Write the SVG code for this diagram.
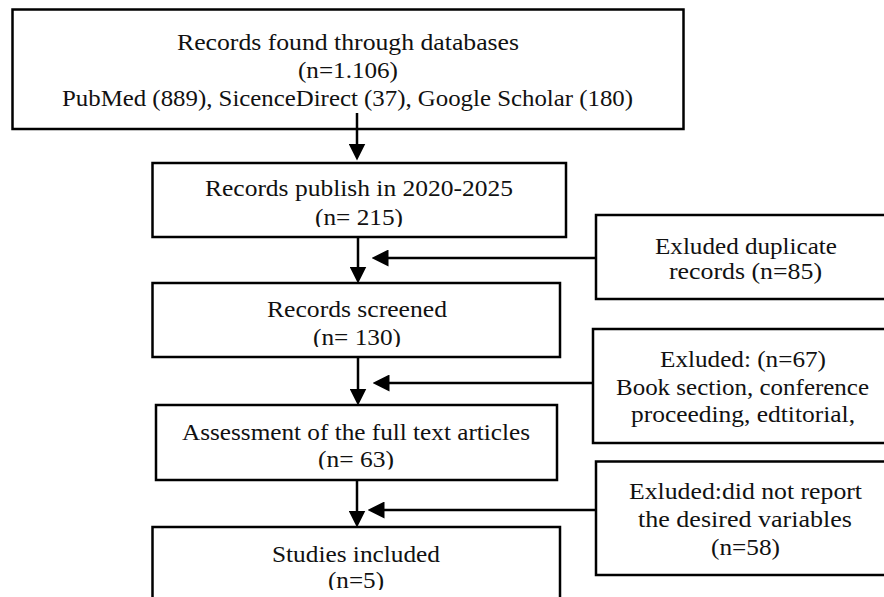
<svg xmlns="http://www.w3.org/2000/svg" width="884" height="597" viewBox="0 0 884 597">
<style>
.box{fill:#fff;stroke:#000;stroke-width:2.5}
.t{font-family:"Liberation Serif","DejaVu Serif",serif;font-size:24px;fill:#111;text-anchor:middle}
.c{stroke:#000;stroke-width:2.5;fill:none}
</style>
<defs>
<marker id="ah" markerUnits="userSpaceOnUse" markerWidth="17" markerHeight="17" refX="8" refY="8" orient="auto" viewBox="0 0 16 16">
<path d="M0,0 L16,8 L0,16 z" fill="#000"/>
</marker>
<clipPath id="cl2"><rect x="150" y="160" width="420" height="67"/></clipPath>
<clipPath id="cl3"><rect x="150" y="280" width="420" height="67"/></clipPath>
<clipPath id="cl6"><rect x="150" y="400" width="420" height="69.5"/></clipPath>
<clipPath id="cl8"><rect x="150" y="520" width="420" height="70"/></clipPath>
</defs>
<rect width="884" height="597" fill="#fff"/>

<g id="n1">
<rect class="box" x="12.5" y="9.5" width="671" height="119.5"/>
<text class="t" x="348" y="50" textLength="342" lengthAdjust="spacingAndGlyphs">Records found through databases</text>
<text class="t" x="348" y="78" textLength="100" lengthAdjust="spacingAndGlyphs">(n=1.106)</text>
<text class="t" x="347.5" y="106" textLength="571" lengthAdjust="spacingAndGlyphs">PubMed (889), SicenceDirect (37), Google Scholar (180)</text>
</g>

<g id="n2">
<rect class="box" x="152.5" y="163" width="413.5" height="74"/>
<g clip-path="url(#cl2)">
<text class="t" x="359" y="196" textLength="308" lengthAdjust="spacingAndGlyphs">Records publish in 2020-2025</text>
<text class="t" x="359" y="224.5" textLength="88" lengthAdjust="spacingAndGlyphs">(n= 215)</text>
</g>
</g>

<g id="n3">
<rect class="box" x="152.5" y="283" width="407.5" height="74"/>
<g clip-path="url(#cl3)">
<text class="t" x="357" y="317" textLength="180" lengthAdjust="spacingAndGlyphs">Records screened</text>
<text class="t" x="357" y="344.5" textLength="88" lengthAdjust="spacingAndGlyphs">(n= 130)</text>
</g>
</g>

<g id="n6">
<rect class="box" x="156" y="405" width="401" height="75"/>
<g clip-path="url(#cl6)">
<text class="t" x="356" y="440" textLength="348" lengthAdjust="spacingAndGlyphs">Assessment of the full text articles</text>
<text class="t" x="356" y="467" textLength="76" lengthAdjust="spacingAndGlyphs">(n= 63)</text>
</g>
</g>

<g id="n8">
<rect class="box" x="152.5" y="527" width="407.5" height="90"/>
<g clip-path="url(#cl8)">
<text class="t" x="356" y="562" textLength="168" lengthAdjust="spacingAndGlyphs">Studies included</text>
<text class="t" x="356" y="588" textLength="56" lengthAdjust="spacingAndGlyphs">(n=5)</text>
</g>
</g>

<g id="n4">
<rect class="box" x="596" y="215" width="310" height="84"/>
<text class="t" x="746" y="254" textLength="182" lengthAdjust="spacingAndGlyphs">Exluded duplicate</text>
<text class="t" x="745.5" y="279" textLength="153" lengthAdjust="spacingAndGlyphs">records (n=85)</text>
</g>

<g id="n5">
<rect class="box" x="593" y="329" width="310" height="114"/>
<text class="t" x="743" y="367" textLength="166" lengthAdjust="spacingAndGlyphs">Exluded: (n=67)</text>
<text class="t" x="742.5" y="395" textLength="253" lengthAdjust="spacingAndGlyphs">Book section, conference</text>
<text class="t" x="743" y="422" textLength="224" lengthAdjust="spacingAndGlyphs">proceeding, edtitorial,</text>
</g>

<g id="n7">
<rect class="box" x="596" y="461.5" width="310" height="113.5"/>
<text class="t" x="745.5" y="499" textLength="233" lengthAdjust="spacingAndGlyphs">Exluded:did not report</text>
<text class="t" x="745" y="527" textLength="214" lengthAdjust="spacingAndGlyphs">the desired variables</text>
<text class="t" x="745.5" y="555" textLength="69" lengthAdjust="spacingAndGlyphs">(n=58)</text>
</g>

<g id="connectors">
<line class="c" x1="357" y1="113" x2="357" y2="152" marker-end="url(#ah)"/>
<line class="c" x1="358" y1="237" x2="358" y2="275" marker-end="url(#ah)"/>
<line class="c" x1="358" y1="357" x2="358" y2="397" marker-end="url(#ah)"/>
<line class="c" x1="357" y1="480" x2="357" y2="519" marker-end="url(#ah)"/>
<line class="c" x1="596" y1="258" x2="380" y2="258" marker-end="url(#ah)"/>
<line class="c" x1="593" y1="383" x2="381" y2="383" marker-end="url(#ah)"/>
<line class="c" x1="596" y1="510" x2="376" y2="510" marker-end="url(#ah)"/>
</g>
</svg>
